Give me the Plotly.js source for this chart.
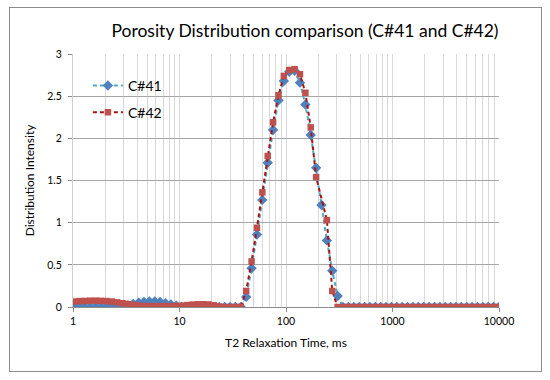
<!DOCTYPE html>
<html>
<head>
<meta charset="utf-8">
<script src="https://cdn.plot.ly/plotly-3.0.1.min.js"></script>
<style>
html,body{margin:0;padding:0;background:#fff;}
#frame{position:absolute;left:9px;top:7px;width:531px;height:363px;border:1px solid #8c8c8c;pointer-events:none;z-index:5;}
#chart{position:absolute;left:0;top:0;width:550px;height:380px;}
</style>
</head>
<body>
<div id="chart"></div>
<div id="frame"></div>
<script>
// T2 relaxation times (ms) - log-spaced bins visible between 1 and 10000
const t2 = [
  1.024, 1.150, 1.292, 1.451, 1.630, 1.831, 2.057, 2.310, 2.595, 2.915,
  3.275, 3.678, 4.132, 4.642, 5.214, 5.857, 6.579, 7.391, 8.302, 9.326,
  10.48, 11.77, 13.22, 14.85, 16.68, 18.74, 21.05, 23.64, 26.56, 29.84,
  33.52, 37.65, 42.29, 47.51, 53.37, 59.95, 67.34, 75.65, 84.98, 95.45,
  107.2, 120.5, 135.3, 152.0, 170.7, 191.8, 215.4, 242.0, 271.9, 305.4,
  343.0, 385.4, 432.9, 486.3, 546.2, 613.6, 689.3, 774.3, 869.7, 977.0,
  1098, 1233, 1385, 1556, 1748, 1963, 2205, 2477, 2783, 3126,
  3511, 3944, 4431, 4977, 5591, 6280, 7055, 7925, 8902, 10000
];
const c41 = [
  0, 0, 0, 0, 0, 0, 0, 0, 0, 0.005,
  0.02, 0.035, 0.05, 0.06, 0.065, 0.065, 0.06, 0.045, 0.03, 0.015,
  0.005, 0, 0, 0, 0, 0, 0, 0, 0, 0,
  0, 0, 0.12, 0.46, 0.86, 1.27, 1.71, 2.10, 2.45, 2.68,
  2.79, 2.80, 2.66, 2.40, 2.04, 1.65, 1.21, 0.79, 0.43, 0.13,
  0, 0, 0, 0, 0, 0, 0, 0, 0, 0,
  0, 0, 0, 0, 0, 0, 0, 0, 0, 0,
  0, 0, 0, 0, 0, 0, 0, 0, 0, 0
];
const c42 = [
  0.065, 0.07, 0.072, 0.075, 0.075, 0.073, 0.07, 0.065, 0.055, 0.045,
  0.035, 0.025, 0.018, 0.012, 0.01, 0.01, 0.01, 0.01, 0.01, 0.012,
  0.015, 0.022, 0.028, 0.032, 0.033, 0.03, 0.02, 0.005, 0, 0,
  0, 0, 0.19, 0.54, 0.94, 1.36, 1.79, 2.19, 2.51, 2.74,
  2.81, 2.82, 2.76, 2.54, 2.13, 1.54, null, 1.03, 0.19, 0,
  0, 0, 0, 0, 0, 0, 0, 0, 0, 0,
  0, 0, 0, 0, 0, 0, 0, 0, 0, 0,
  0, 0, 0, 0, 0, 0, 0, 0, 0, 0
];
const seriesNames = ["C#41", "C#42"];
const xTickVals = [1, 10, 100, 1000, 10000];
const xTickText = ["1", "10", "100", "1000", "10000"];
const yTickVals = [0, 0.5, 1, 1.5, 2, 2.5, 3];
const yTickText = ["0", "0.5", "1", "1.5", "2", "2.5", "3"];

const FONT = "Lato, 'Open Sans', sans-serif";

const traces = [
  {
    x: t2, y: c41, name: seriesNames[0], type: "scatter", mode: "lines+markers",
    connectgaps: true, legendgroup: "a",
    line: {color: "#4bacc6", width: 2, dash: "4px,3px"},
    marker: {symbol: "diamond", size: 8, color: "#4f81bd"}
  },
  {
    x: t2, y: c42, name: seriesNames[1], type: "scatter", mode: "lines+markers",
    connectgaps: true, legendgroup: "b",
    line: {color: "#a81414", width: 2, dash: "4px,3px"},
    marker: {symbol: "square", size: 6.5, color: "#c0504d"}
  }
];

const layout = {
  width: 550, height: 380,
  margin: {l: 72.5, r: 51, t: 54.3, b: 72.7},
  paper_bgcolor: "#ffffff", plot_bgcolor: "#ffffff",
  font: {family: FONT, size: 11, color: "#404040"},
  title: {
    text: "Porosity Distribution comparison (C#41 and C#42)",
    font: {family: FONT, size: 17.5, color: "#000000"},
    x: 305 / 550, xref: "container", xanchor: "center",
    y: 1 - 31 / 380, yref: "container", yanchor: "middle"
  },
  showlegend: true,
  legend: {
    x: 0.035, y: 0.937, xanchor: "left", yanchor: "top",
    bgcolor: "rgba(0,0,0,0)", borderwidth: 0,
    font: {family: FONT, size: 14, color: "#000000"},
    tracegroupgap: 5.5
  },
  xaxis: {
    type: "log", range: [0, 4],
    tickmode: "array", tickvals: xTickVals, ticktext: xTickText,
    tickfont: {family: FONT, size: 10.5, color: "#000000"},
    ticks: "outside", ticklen: 4, tickcolor: "#8c8c8c",
    showgrid: true, gridcolor: "#d9d9d9", gridwidth: 1,
    minor: {dtick: "D1", showgrid: true, gridcolor: "#d9d9d9", gridwidth: 1, ticks: ""},
    showline: true, linecolor: "#8c8c8c", linewidth: 1,
    zeroline: false,
    title: {text: "T2 Relaxation Time, ms", font: {family: FONT, size: 12, color: "#000000"}, standoff: 13}
  },
  yaxis: {
    range: [0, 3],
    tickmode: "array", tickvals: yTickVals, ticktext: yTickText,
    tickfont: {family: FONT, size: 10.5, color: "#000000"},
    ticks: "outside", ticklen: 4, tickcolor: "#8c8c8c",
    ticklabelstandoff: 4,
    showgrid: true, gridcolor: "#a6a6a6", gridwidth: 1,
    showline: true, linecolor: "#d0d0d0", linewidth: 1,
    zeroline: false,
    title: {text: "Distribution Intensity", font: {family: FONT, size: 12, color: "#000000"}, standoff: 10}
  }
};

Plotly.newPlot("chart", traces, layout, {staticPlot: true, displayModeBar: false});
</script>
</body>
</html>
